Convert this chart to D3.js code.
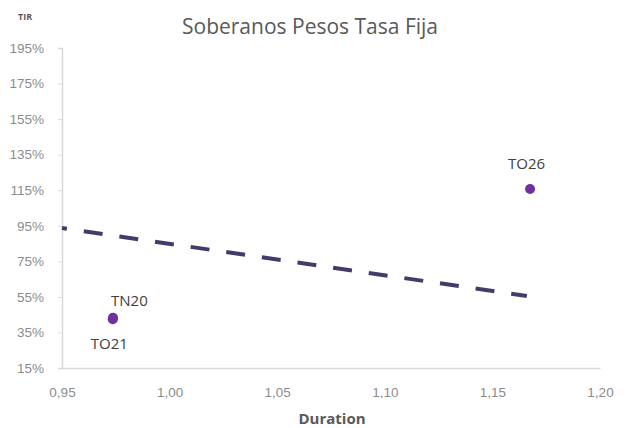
<!DOCTYPE html>
<html>
<head>
<meta charset="utf-8">
<script src="https://cdn.jsdelivr.net/npm/d3@7"></script>
<style>
  html, body { margin: 0; padding: 0; background: #fff; }
  svg { display: block; font-family: "Open Sans", Lato, sans-serif; }
</style>
</head>
<body>
<svg id="chart" width="630" height="428"></svg>
<script>
// Bonds: duration (years) and TIR (%)
const bondNames = ["TO21", "TN20", "TO26"];
const bondDuration = [0.9736, 0.9737, 1.1675];
const bondTir = [42.4, 43.2, 115.7];

// Trend line endpoints (duration, TIR %)
const trendDuration = [0.95, 1.166];
const trendTir = [93.7, 55.5];

const xTicks = [0.95, 1.00, 1.05, 1.10, 1.15, 1.20];
const yTicks = [15, 35, 55, 75, 95, 115, 135, 155, 175, 195];

const svg = d3.select("#chart");
const plot = { left: 62, right: 600, top: 48, bottom: 368 };

const x = d3.scaleLinear().domain([0.95, 1.20]).range([plot.left, plot.right]);
const y = d3.scaleLinear().domain([15, 195]).range([plot.bottom, plot.top]);

const fmtX = v => d3.format(".2f")(v).replace(".", ",");
const fmtY = v => v + "%";

// Y axis
const yAxis = svg.append("g")
  .attr("transform", `translate(${plot.left},0)`)
  .call(d3.axisLeft(y).tickValues(yTicks).tickFormat(fmtY).tickSize(4).tickPadding(14));
yAxis.select(".domain").attr("stroke", "#d9d9d9").attr("stroke-width", 1.5);
yAxis.selectAll(".tick line").attr("stroke", "#d9d9d9");
yAxis.selectAll(".tick text").attr("fill", "#8c8c8c").attr("font-size", 13.5);

// X axis
const xAxis = svg.append("g")
  .attr("transform", `translate(0,${plot.bottom})`)
  .call(d3.axisBottom(x).tickValues(xTicks).tickFormat(fmtX).tickSize(0).tickPadding(19));
xAxis.select(".domain").attr("stroke", "#d9d9d9").attr("stroke-width", 1.5);
xAxis.selectAll(".tick text").attr("fill", "#8c8c8c").attr("font-size", 13.5);

// Dashed trend line
const trend = trendDuration.map((d, i) => [d, trendTir[i]]);
svg.append("path")
  .datum(trend)
  .attr("d", d3.line().x(d => x(d[0])).y(d => y(d[1])))
  .attr("fill", "none")
  .attr("stroke", "#463a6b")
  .attr("stroke-width", 4)
  .attr("stroke-dasharray", "19,17")
  .attr("stroke-dashoffset", 14);

// Bond points
const bonds = bondNames.map((n, i) => ({ name: n, d: bondDuration[i], t: bondTir[i] }));
svg.append("g").selectAll("circle")
  .data(bonds)
  .join("circle")
  .attr("cx", d => x(d.d))
  .attr("cy", d => y(d.t))
  .attr("r", 5)
  .attr("fill", "#7030a0");

// Bond labels
const labelOffset = { TO21: [-22, 30], TN20: [-2, -12], TO26: [-22, -20] };
svg.append("g").selectAll("text")
  .data(bonds)
  .join("text")
  .attr("x", d => x(d.d) + labelOffset[d.name][0])
  .attr("y", d => y(d.t) + labelOffset[d.name][1])
  .attr("font-size", 15)
  .attr("fill", "#404040")
  .text(d => d.name);

// Title and axis titles
svg.append("text")
  .attr("x", 310).attr("y", 34)
  .attr("text-anchor", "middle")
  .attr("font-size", 21)
  .attr("fill", "#595959")
  .text("Soberanos Pesos Tasa Fija");

svg.append("text")
  .attr("x", 18).attr("y", 20)
  .attr("font-size", 9)
  .attr("font-weight", "bold")
  .attr("fill", "#595959")
  .text("TIR");

svg.append("text")
  .attr("x", 332).attr("y", 424)
  .attr("text-anchor", "middle")
  .attr("font-size", 15)
  .attr("font-weight", "bold")
  .attr("fill", "#595959")
  .text("Duration");
</script>
</body>
</html>
